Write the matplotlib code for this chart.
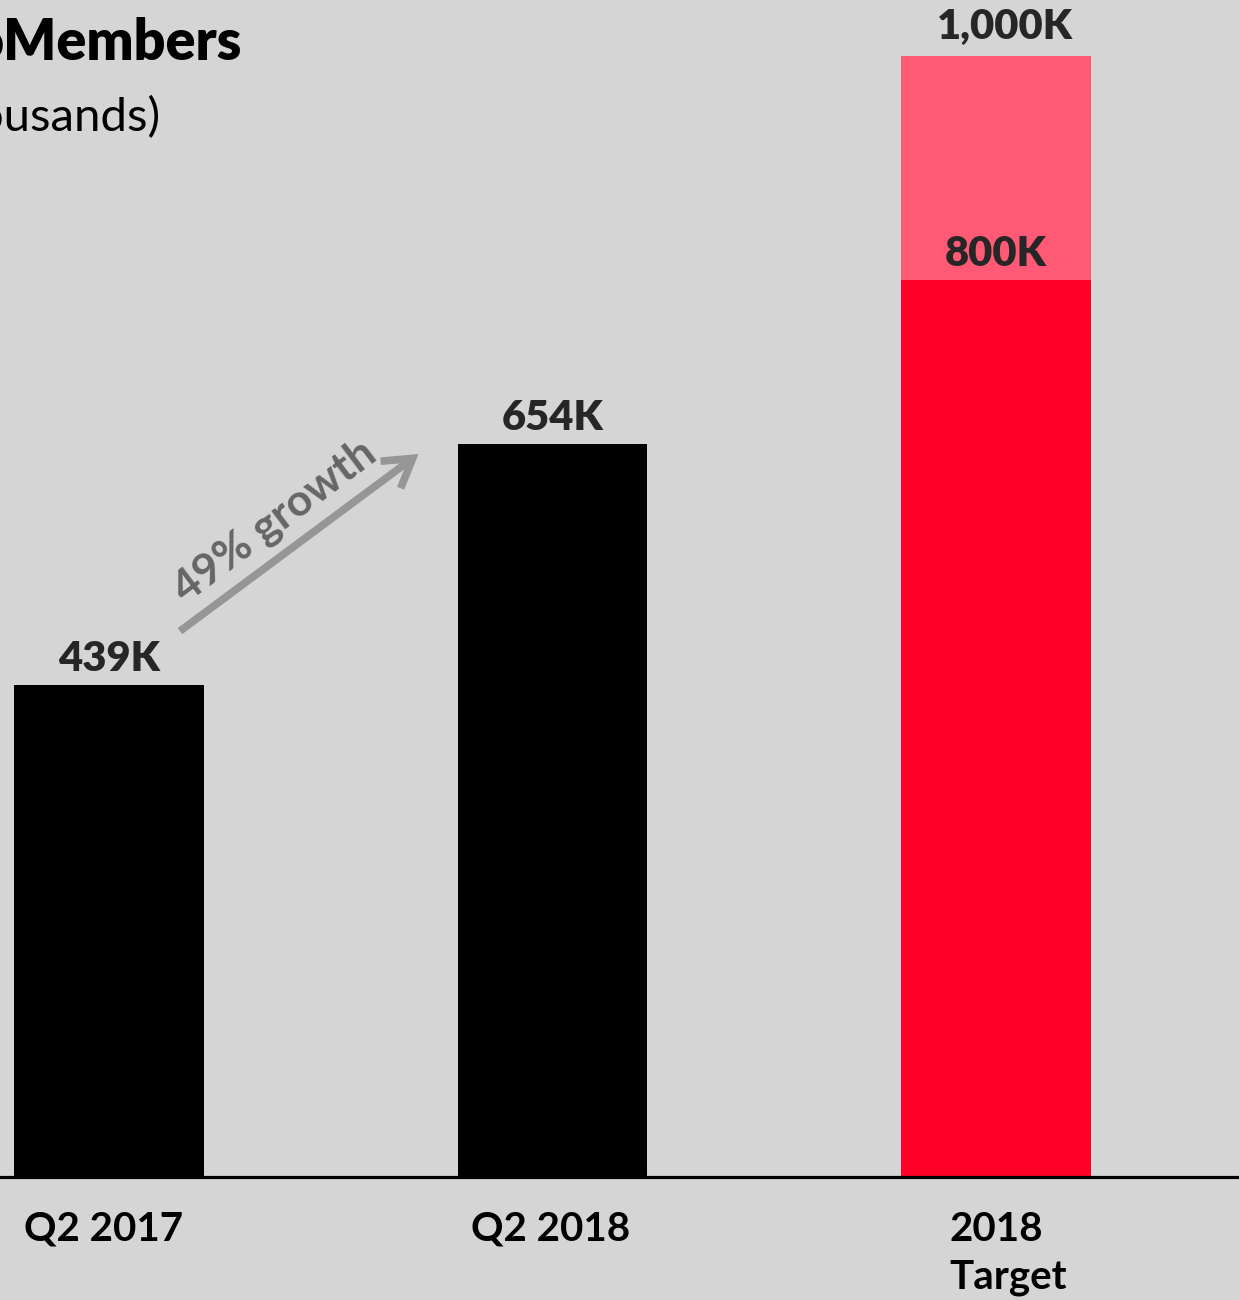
import matplotlib
matplotlib.use("Agg")
import matplotlib.pyplot as plt

# members, in thousands
CATEGORIES = ["Q2 2017", "Q2 2018", "2018\nTarget"]
ACTUAL = [439, 654, 800]
STRETCH = [0, 0, 200]          # extra on top of the target bar
LABELS = ["439K", "654K", "800K"]
STRETCH_LABEL = "1,000K"
GROWTH = "49% growth"

BG = "#d5d5d5"
RED = "#ff0029"
PINK = "#ff5a75"

plt.rcParams["font.family"] = ["Lato", "DejaVu Sans"]

fig = plt.figure(figsize=(12.39, 13.0), dpi=100, facecolor=BG)
ax = fig.add_axes([0, 123 / 1300, 1, 1 - 123 / 1300])
ax.set_facecolor(BG)

x = list(range(len(CATEGORIES)))
colors = ["black", "black", RED]
ax.bar(x, ACTUAL, width=0.428, color=colors, zorder=2)
ax.bar(x, STRETCH, bottom=ACTUAL, width=0.428, color=PINK, zorder=2)

ax.set_xlim(-0.2458, 2.548)
ax.set_ylim(0, 1050)
ax.axis("off")

# baseline across the whole width
ax.axhline(0, color="black", lw=2.3, zorder=3, clip_on=False)

# value labels above each bar
for xi, v, lab in zip(x, ACTUAL, LABELS):
    ax.annotate(lab, (xi, v), xytext=(0, 5), textcoords="offset points",
                ha="center", va="bottom", fontsize=30, fontweight="heavy",
                color="#262626")
ax.annotate(STRETCH_LABEL, (x[2] + 0.02, ACTUAL[2] + STRETCH[2]),
            xytext=(0, 7), textcoords="offset points", ha="center",
            va="bottom", fontsize=30, fontweight="heavy", color="#262626")

# category labels under the baseline
ax.text(x[0] - 0.012, -30, CATEGORIES[0], ha="center", va="top",
        fontsize=29, fontweight="bold", color="black", clip_on=False)
ax.text(x[1] - 0.005, -30, CATEGORIES[1], ha="center", va="top",
        fontsize=29, fontweight="bold", color="black", clip_on=False)
ax.text(x[2] - 0.104, -30, CATEGORIES[2], ha="left", va="top",
        fontsize=29, fontweight="bold", color="black", clip_on=False,
        linespacing=1.35)

# growth arrow between the first two bars
ax.annotate("", xy=(0.698, 645), xytext=(0.160, 487),
            arrowprops=dict(arrowstyle="->,head_length=0.9,head_width=0.55",
                            mutation_scale=22, color="#969696", lw=5.5,
                            shrinkA=0, shrinkB=0, joinstyle="miter",
                            capstyle="butt"))
ax.text(0.372, 585, GROWTH, rotation=37, rotation_mode="anchor",
        ha="center", va="center", fontsize=32, fontweight="bold",
        color="#666666")

# title block, running off the left edge
fig.text(242 / 1239, 1 - 43 / 1300, "oMembers", ha="right", va="center",
         fontsize=40, fontweight="heavy", color="black")
fig.text(160 / 1239, 1 - 118 / 1300, "(in thousands)", ha="right",
         va="center", fontsize=34, color="black")

fig.savefig("out.png", dpi=100, facecolor=BG)
